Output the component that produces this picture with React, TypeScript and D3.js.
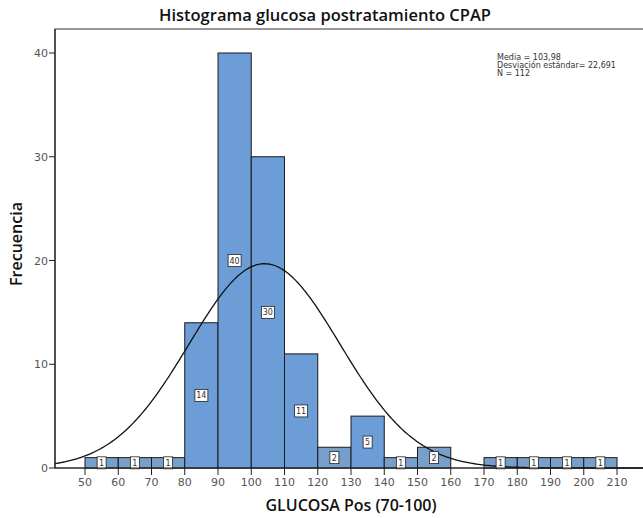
import React from "react";
import * as d3 from "d3";

const binStarts = [50, 60, 70, 80, 90, 100, 110, 120, 130, 140, 150, 160, 170, 180, 190, 200];
const counts = [1, 1, 1, 14, 40, 30, 11, 2, 5, 1, 2, 0, 1, 1, 1, 1];
const xTicks = [50, 60, 70, 80, 90, 100, 110, 120, 130, 140, 150, 160, 170, 180, 190, 200, 210];
const yTicks = [0, 10, 20, 30, 40];
const mean = 103.98;
const sd = 22.691;
const n = 112;
const binWidth = 10;
const statLines = ["Media = 103,98", "Desviación estándar= 22,691", "N = 112"];

export default function App() {
  const W = 643, H = 518;
  const x = d3.scaleLinear().domain([50, 210]).range([85, 617]);
  const y = d3.scaleLinear().domain([0, 40]).range([468, 53]);
  const left = 55, top = 29, right = 660, bottom = 468;
  const xMin = x.invert(left), xMax = x.invert(W);
  const pts: [number, number][] = [];
  for (let i = 0; i <= 300; i++) {
    const v = xMin + ((xMax - xMin) * i) / 300;
    const d = (n * binWidth) / (sd * Math.sqrt(2 * Math.PI)) * Math.exp(-0.5 * ((v - mean) / sd) ** 2);
    pts.push([x(v), y(d)]);
  }
  const line = d3.line()(pts) || "";
  const font = "'DejaVu Sans', sans-serif";
  const gray = "#555";
  return (
    <svg width={W} height={H} style={{ position: "absolute", left: 0, top: 0, background: "#fff" }}>
      <text x={325} y={21} textAnchor="middle" fontFamily="'Open Sans', sans-serif" fontWeight={600} fontSize={16.5} fill="#111">
        Histograma glucosa postratamiento CPAP
      </text>
      <rect x={left} y={top} width={right - left} height={bottom - top} fill="#fff" stroke="#333" strokeWidth={1} />
      {binStarts.map((b, i) =>
        counts[i] > 0 ? (
          <rect key={"b" + i} x={x(b)} y={y(counts[i])} width={x(b + binWidth) - x(b)} height={y(0) - y(counts[i])}
            fill={counts[i] <= 2 ? "#789fc9" : "#6c9dd6"} stroke="#1a1a1a" strokeWidth={1} />
        ) : null
      )}
      <path d={line} fill="none" stroke="#111" strokeWidth={1.3} />
      {binStarts.map((b, i) => {
        if (counts[i] <= 0) return null;
        const cx = x(b + binWidth / 2);
        const cy = y(counts[i] / 2);
        const label = String(counts[i]);
        const w = label.length > 1 ? 13 : 9;
        return (
          <g key={"l" + i}>
            <rect x={cx - w / 2} y={cy - 6} width={w} height={12} fill="#fff" stroke="#222" strokeWidth={0.8} />
            <text x={cx} y={cy + 3} textAnchor="middle" fontFamily={font} fontSize={8} fill="#333">{label}</text>
          </g>
        );
      })}
      <line x1={left} y1={bottom} x2={W} y2={bottom} stroke="#222" strokeWidth={1.2} />
      <line x1={left} y1={top} x2={left} y2={bottom} stroke="#222" strokeWidth={1.2} />
      {xTicks.map((t) => (
        <g key={"xt" + t}>
          <line x1={x(t)} y1={bottom} x2={x(t)} y2={bottom + 7} stroke="#222" />
          <text x={x(t)} y={486} textAnchor="middle" fontFamily={font} fontSize={11} fill={gray}>{t}</text>
        </g>
      ))}
      {yTicks.map((t) => (
        <g key={"yt" + t}>
          <line x1={left - 6} y1={y(t)} x2={left} y2={y(t)} stroke="#222" />
          <text x={left - 7} y={y(t) + 4} textAnchor="end" fontFamily={font} fontSize={11} fill={gray}>{t}</text>
        </g>
      ))}
      <text x={351} y={511} textAnchor="middle" fontFamily="'Open Sans', sans-serif" fontWeight={600} fontSize={16} fill="#111">
        GLUCOSA Pos (70-100)
      </text>
      <text transform="translate(22,244) rotate(-90)" textAnchor="middle" fontFamily="'Open Sans', sans-serif" fontWeight={600} fontSize={16} fill="#111">
        Frecuencia
      </text>
      {statLines.map((s, i) => (
        <text key={"s" + i} x={497} y={60 + i * 8} fontFamily={font} fontSize={8} fill="#333">{s}</text>
      ))}
    </svg>
  );
}
